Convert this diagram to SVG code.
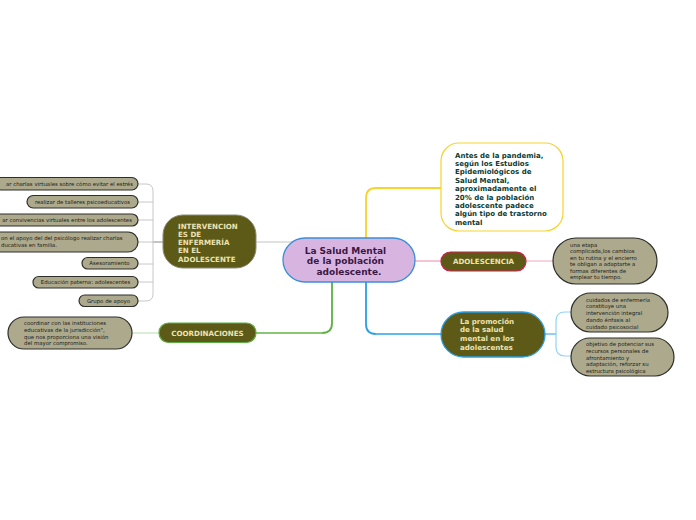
<svg xmlns="http://www.w3.org/2000/svg" width="696" height="520" viewBox="0 0 696 520">
<style>
.bg{fill:#ffffff}
.leaf{fill:#ada98d;stroke:#2e2e2a;stroke-width:1.2}
.lt{font-family:"DejaVu Sans",Verdana,sans-serif;font-size:5.4px;fill:#1c1c14}
.dark{fill:#5d5a17}
.ct{font-family:"DejaVu Sans",Verdana,sans-serif;font-weight:bold;font-size:7.1px;fill:#ece3b4}
.c{fill:none;stroke-linecap:round}
</style>
<rect class="bg" x="0" y="0" width="696" height="520"/>
<g id="connectors">
  <path class="c" d="M366,250 V198 Q366,188 376,188 H441" stroke="#f6d32d" stroke-width="1.8"/>
  <path class="c" d="M366,270 V324 Q366,334 376,334 H441" stroke="#2b9ee2" stroke-width="1.8"/>
  <path class="c" d="M376,334 H441" stroke="#93d3f3" stroke-width="1.2"/>
  <path class="c" d="M332,270 V323 Q332,333 322,333 H257" stroke="#5cb043" stroke-width="1.8"/>
  <path class="c" d="M322,333 H257" stroke="#b8dcaa" stroke-width="1.2"/>
  <path class="c" d="M300,242 H257" stroke="#c4c4c4" stroke-width="1.2"/>
  <path class="c" d="M400,261 H441" stroke="#e88aa8" stroke-width="1.2"/>
  <path class="c" d="M526,261 H553" stroke="#f0a8bf" stroke-width="1"/>
  <path class="c" d="M545,334 H556" stroke="#2b9ee2" stroke-width="1.2"/>
  <path class="c" d="M571,312 H565 Q556,312 556,321 V347 Q556,356 565,356 H571" stroke="#93d3f3" stroke-width="1.2"/>
  <path class="c" d="M132,333 H159" stroke="#b8dcaa" stroke-width="1.2"/>
  <path class="c" d="M153,242 H163" stroke="#8a8a8a" stroke-width="1.2"/>
  <path class="c" d="M138,184 H146 Q153,184 153,191 V294 Q153,301 146,301 H138 M138,202 H153 M138,220 H153 M138,242 H153 M138,264 H153 M138,282 H153" stroke="#c8c8c8" stroke-width="1"/>
</g>
<g id="central">
  <rect x="283" y="238" width="132" height="44" rx="22" fill="#d8b5e1" stroke="#3a8fd8" stroke-width="1.3"/>
  <text font-family="DejaVu Sans,Verdana,sans-serif" font-weight="bold" font-size="9" fill="#3b1746" text-anchor="middle">
    <tspan x="347" y="253.5">La Salud Mental</tspan>
    <tspan x="347" y="264">de la población</tspan>
    <tspan x="349" y="274.5">adolescente.</tspan>
  </text>
</g>
<g id="antes">
  <rect x="441" y="143" width="122" height="88" rx="18" fill="#ffffff" stroke="#f6d32d" stroke-width="1.2"/>
  <text font-family="DejaVu Sans,Verdana,sans-serif" font-weight="bold" font-size="7" fill="#0b3b33">
    <tspan x="455" y="157.5">Antes de la pandemia,</tspan>
    <tspan x="455" y="165.9">según los Estudios</tspan>
    <tspan x="455" y="174.3">Epidemiológicos de</tspan>
    <tspan x="455" y="182.7">Salud Mental,</tspan>
    <tspan x="455" y="191.1">aproximadamente el</tspan>
    <tspan x="455" y="199.5">20% de la población</tspan>
    <tspan x="455" y="207.9">adolescente padece</tspan>
    <tspan x="455" y="216.3">algún tipo de trastorno</tspan>
    <tspan x="455" y="224.7">mental</tspan>
  </text>
</g>
<g id="adolescencia">
  <rect class="dark" x="441" y="252" width="85" height="19" rx="9.5" stroke="#c9214c" stroke-width="1.2"/>
  <text class="ct" x="483.5" y="264" text-anchor="middle">ADOLESCENCIA</text>
</g>
<g id="etapa">
  <rect class="leaf" x="553" y="238" width="104" height="46" rx="23"/>
  <text class="lt">
    <tspan x="570" y="246.5">una etapa</tspan>
    <tspan x="570" y="253">complicada,los cambios</tspan>
    <tspan x="570" y="259.5">en tu rutina y el encierro</tspan>
    <tspan x="570" y="266">te obligan a adaptarte a</tspan>
    <tspan x="570" y="272.5">formas diferentes de</tspan>
    <tspan x="570" y="279">emplear tu tiempo.</tspan>
  </text>
</g>
<g id="promocion">
  <rect class="dark" x="441" y="312" width="104" height="45" rx="22.5" stroke="#2b9ee2" stroke-width="1.3"/>
  <text class="ct" font-size="7.2">
    <tspan x="460" y="323.5">La promoción</tspan>
    <tspan x="460" y="332.2">de la salud</tspan>
    <tspan x="460" y="340.9">mental en los</tspan>
    <tspan x="460" y="349.6">adolescentes</tspan>
  </text>
</g>
<g id="cuidados">
  <rect class="leaf" x="571" y="293" width="97" height="39" rx="19.5"/>
  <text class="lt">
    <tspan x="586" y="301.5">cuidados de enfermería</tspan>
    <tspan x="586" y="308.3">constituye una</tspan>
    <tspan x="586" y="315.1">intervención integral</tspan>
    <tspan x="586" y="321.9">dando énfasis al</tspan>
    <tspan x="586" y="328.7">cuidado psicosocial</tspan>
  </text>
</g>
<g id="objetivo">
  <rect class="leaf" x="571" y="338" width="103" height="38" rx="19"/>
  <text class="lt">
    <tspan x="586" y="346">objetivo de potenciar sus</tspan>
    <tspan x="586" y="352.8">recursos personales de</tspan>
    <tspan x="586" y="359.6">afrontamiento y</tspan>
    <tspan x="586" y="366.4">adaptación, reforzar su</tspan>
    <tspan x="586" y="373.2">estructura psicológica</tspan>
  </text>
</g>
<g id="intervenciones">
  <rect class="dark" x="163" y="215" width="93" height="53" rx="20" stroke="#8a8a7a" stroke-width="1"/>
  <text class="ct" font-size="7.2">
    <tspan x="178" y="228.5">INTERVENCION</tspan>
    <tspan x="178" y="236.8">ES DE</tspan>
    <tspan x="178" y="245.1">ENFERMERÍA</tspan>
    <tspan x="178" y="253.4">EN EL</tspan>
    <tspan x="178" y="261.7">ADOLESCENTE</tspan>
  </text>
</g>
<g id="coordinaciones">
  <rect class="dark" x="159" y="323" width="97" height="19.5" rx="9.5" stroke="#5cb043" stroke-width="1.2"/>
  <text class="ct" x="207.5" y="335.5" text-anchor="middle">COORDINACIONES</text>
</g>
<g id="coordinar">
  <rect class="leaf" x="8" y="317" width="124" height="32" rx="16"/>
  <text class="lt">
    <tspan x="24" y="325">coordinar con las instituciones</tspan>
    <tspan x="24" y="331.8">educativas de la jurisdicción",</tspan>
    <tspan x="24" y="338.6">que nos proporciona una visión</tspan>
    <tspan x="24" y="345.4">del mayor compromiso.</tspan>
  </text>
</g>
<g id="leaf1">
  <rect class="leaf" x="-20" y="177.5" width="158" height="12.5" rx="6.2"/>
  <text class="lt" x="133" y="185.7" text-anchor="end">ar charlas virtuales sobre cómo evitar el estrés</text>
</g>
<g id="leaf2">
  <rect class="leaf" x="27" y="195.5" width="111" height="12.5" rx="6.2"/>
  <text class="lt" x="82.5" y="203.7" text-anchor="middle">realizar de talleres psicoeducativos</text>
</g>
<g id="leaf3">
  <rect class="leaf" x="-20" y="214" width="158" height="12" rx="6"/>
  <text class="lt" x="132" y="222" text-anchor="end">ar convivencias virtuales entre los adolescentes</text>
</g>
<g id="leaf4">
  <rect class="leaf" x="-20" y="232" width="158" height="20" rx="10"/>
  <text class="lt">
    <tspan x="1" y="240">on el apoyo del  del psicólogo realizar charlas</tspan>
    <tspan x="1" y="246.8">ducativas en familia.</tspan>
  </text>
</g>
<g id="leaf5">
  <rect class="leaf" x="82" y="257.5" width="56" height="11.5" rx="5.7"/>
  <text class="lt" x="109.5" y="265.2" text-anchor="middle">Asesoramiento</text>
</g>
<g id="leaf6">
  <rect class="leaf" x="33" y="276.5" width="105" height="11.5" rx="5.7"/>
  <text class="lt" x="85.5" y="284.2" text-anchor="middle">Educación paterna: adolescentes</text>
</g>
<g id="leaf7">
  <rect class="leaf" x="79" y="295" width="59" height="11.5" rx="5.7"/>
  <text class="lt" x="108.5" y="302.7" text-anchor="middle">Grupo de apoyo</text>
</g>
</svg>
